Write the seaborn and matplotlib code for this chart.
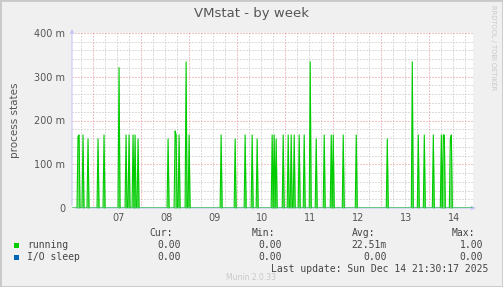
import numpy as np
import pandas as pd
import matplotlib
matplotlib.use("Agg")
import matplotlib.pyplot as plt
from matplotlib.patches import Rectangle
import seaborn as sns

# ---- data ----
title = "VMstat - by week"
ylabel = "process states"
day_labels = ["07", "08", "09", "10", "11", "12", "13", "14"]
day_starts = [7, 8, 9, 10, 11, 12, 13, 14]
# running: spike times (day of month, decimal) and values (process states)
spike_day = [6.700, 6.721, 6.804, 6.908, 7.117, 7.241, 7.554, 7.699, 7.762, 7.845,
             7.887, 7.949, 8.574, 8.707, 8.728, 8.803, 8.942, 8.998, 9.677, 9.968,
             10.177, 10.322, 10.426, 10.739, 10.780, 10.822, 10.968, 11.072, 11.134,
             11.197, 11.301, 11.405, 11.530, 11.654, 11.821, 11.967, 12.008, 12.216,
             12.487, 13.132, 13.653, 13.778, 13.903, 14.090, 14.257, 14.299, 14.319,
             14.444, 14.465]
spike_val = [0.163, 0.167, 0.167, 0.158, 0.158, 0.167, 0.321, 0.167, 0.167, 0.167,
             0.167, 0.158, 0.158, 0.176, 0.167, 0.167, 0.334, 0.167, 0.167, 0.158,
             0.167, 0.167, 0.158, 0.167, 0.167, 0.158, 0.167, 0.167, 0.167,
             0.167, 0.167, 0.167, 0.334, 0.158, 0.167, 0.167, 0.167, 0.167,
             0.167, 0.158, 0.334, 0.167, 0.167, 0.167, 0.167, 0.167, 0.167,
             0.158, 0.167]
t_start, t_end = 6.569, 14.896   # time window of the series (days)
x_min, x_max = 6.569, 14.916
y_max = 0.4
legend_names = ["running", "I/O sleep"]
legend_colors = ["#00cc00", "#0066b3"]
stat_headers = ["Cur:", "Min:", "Avg:", "Max:"]
stats = [["0.00", "0.00", "22.51m", "1.00"],
         ["0.00", "0.00", "0.00", "0.00"]]
last_update = "Last update: Sun Dec 14 21:30:17 2025"
footer = "Munin 2.0.33"
side_text = "RRDTOOL / TOBI OETIKER"

# ---- build 30-minute series ----
step = 1 / 48
grid = np.arange(t_start, t_end + step / 2, step)
running = np.zeros_like(grid)
for d, v in zip(spike_day, spike_val):
    i = int(round((d - t_start) / step))
    running[i] = max(running[i], v)
iosleep = np.zeros_like(grid)
df = pd.DataFrame({"t": grid, "running": running, "iosleep": iosleep})

sns.set_style("white")
plt.rcParams["font.family"] = ["DejaVu Sans"]

W, H = 503, 287
fig = plt.figure(figsize=(W / 100, H / 100), dpi=100)
fig.patch.set_facecolor("#f0f0f0")

def P(x, y):
    return (x / W, 1 - y / H)

L, R, T, B = 72, 473, 33, 208
ax = fig.add_axes([L / W, 1 - B / H, (R - L) / W, (B - T) / H])
ax.set_facecolor("white")
for s in ax.spines.values():
    s.set_visible(False)

ax.set_xlim(x_min, x_max)
ax.set_ylim(0, y_max)

# grid
gray = "#bdbdbd"
red = "#e48c8c"
dot = (0, (1, 2))
for k in np.arange(np.ceil(x_min * 4) / 4, x_max, 0.25):
    if abs(k - round(k)) < 1e-6:
        continue
    ax.axvline(k, color=gray, lw=0.72, ls=dot, zorder=0)
for k in np.arange(0.02, y_max + 1e-9, 0.02):
    if abs(k * 10 - round(k * 10)) < 1e-6:
        continue
    ax.axhline(k, color=gray, lw=0.72, ls=dot, zorder=0)
for d in day_starts:
    ax.axvline(d, color=red, lw=0.72, ls=dot, zorder=0.5)
for k in [0.1, 0.2, 0.3, 0.4]:
    ax.axhline(k, color=red, lw=0.72, ls=dot, zorder=0.5)

# series
ax.fill_between(df["t"], df["running"], color=legend_colors[0], alpha=0.55, lw=0, zorder=2)
sns.lineplot(data=df, x="t", y="running", ax=ax, color=legend_colors[0], lw=0.8, zorder=3)
sns.lineplot(data=df, x="t", y="iosleep", ax=ax, color="#7a9fe6", lw=1.0, zorder=4)

# axes arrows
ax.annotate("", xy=(0, 1.04), xytext=(0, 0), xycoords="axes fraction",
            arrowprops=dict(arrowstyle="-|>", color="#c8c8f5", lw=0.8,
                            mutation_scale=6), annotation_clip=False, zorder=5)
ax.annotate("", xy=(1.014, 0), xytext=(0, 0), xycoords="axes fraction",
            arrowprops=dict(arrowstyle="-|>", color="#c8c8f5", lw=0.8,
                            mutation_scale=6), annotation_clip=False, zorder=1)

# ticks
ax.set_yticks([0, 0.1, 0.2, 0.3, 0.4])
ax.set_yticklabels(["0"] + [f"{int(round(v * 1000))} m" for v in [0.1, 0.2, 0.3, 0.4]])
ax.set_xticks([d + 0.53 for d in day_starts])
ax.set_xticklabels(day_labels)
ax.set_xticks(day_starts, minor=True)
ax.tick_params(axis="both", which="major", length=0, labelsize=7, colors="#555555")
ax.tick_params(axis="y", pad=5)
ax.tick_params(axis="x", pad=3.5)
ax.tick_params(axis="x", which="minor", length=2, color=red, width=0.7, direction="out")
ax.set_xlabel("")
ax.set_ylabel(ylabel, fontsize=7.5, color="#555555", labelpad=10)

# title & side texts
fig.text(*P(251, 13), title, ha="center", va="center", fontsize=9.5, color="#555555")
fig.text(*P(493, 5), side_text, ha="center", va="top", rotation=270,
         fontsize=4.8, color="#c8c8c8")
fig.text(*P(251, 277), footer, ha="center", va="center", fontsize=5.5, color="#c8c8c8")

# legend
mono = "DejaVu Sans Mono"
hx = [173, 275, 375, 475]
vx = [181, 282, 387, 483]
for x, h in zip(hx, stat_headers):
    fig.text(*P(x, 233), h, ha="right", va="center", fontsize=7, family=mono, color="#444444")
for r, (name, col) in enumerate(zip(legend_names, legend_colors)):
    y = 245 + 12 * r
    fig.patches.append(Rectangle(P(14, y + 2.5), 5 / W, 5 / H, transform=fig.transFigure,
                                 facecolor=col, edgecolor="none"))
    fig.text(*P(27, y), name, ha="left", va="center", fontsize=7, family=mono, color="#444444")
    for x, v in zip(vx, stats[r]):
        fig.text(*P(x, y), v, ha="right", va="center", fontsize=7, family=mono, color="#444444")
fig.text(*P(488, 269), last_update, ha="right", va="center", fontsize=7, family=mono,
         color="#444444")

# frame
fig.patches.append(Rectangle((0, 0), 1, 1, transform=fig.transFigure, fill=False,
                             edgecolor="#c8c8c8", lw=2))

fig.savefig("out.png", dpi=100, facecolor=fig.get_facecolor())
